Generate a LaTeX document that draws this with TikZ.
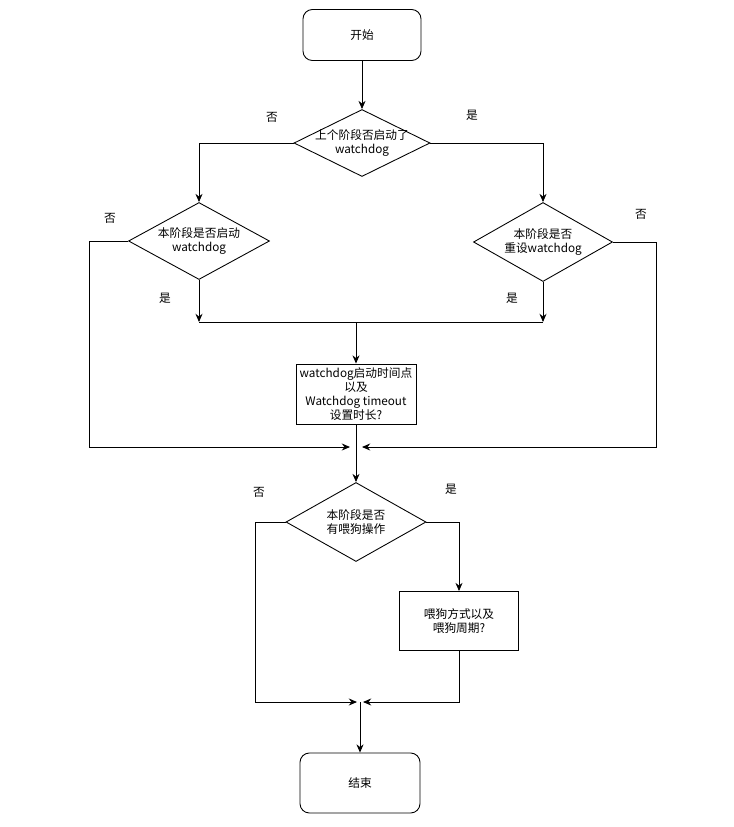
\documentclass[tikz,border=0pt]{standalone}
\usepackage{fontspec}
\setmainfont{Noto Sans CJK SC}
\usetikzlibrary{shapes.geometric,arrows.meta,positioning,calc}
\tikzset{%
  x=0.03cm, y=-0.03cm,
  every node/.style={font=\fontsize{10}{12}\selectfont, align=center},
  terminal/.style={draw, rounded corners=8pt, line width=0.75pt, minimum width=#1, inner sep=0pt},
  decision/.style={draw, diamond, line width=0.75pt, inner sep=0pt},
  process/.style={draw, rectangle, line width=0.75pt, inner sep=0pt},
  flow/.style={draw, line width=0.75pt, -{Stealth[length=7pt,width=6pt]}},
  line/.style={draw, line width=0.75pt}
}
\begin{document}
\begin{tikzpicture}
  \useasboundingbox (0,0) rectangle (734,827);
  % start / end
  \node[terminal=3.54cm, minimum height=1.53cm] (start) at (362,35) {开始};
  \node[terminal=3.6cm, minimum height=1.8cm] (stop) at (360,783) {结束};
  % decisions
  \node[decision, minimum width=4.08cm, minimum height=2.01cm] (d1) at (362,143) {};
  \node at (d1) {上个阶段否启动了\\watchdog};
  \node[decision, minimum width=4.23cm, minimum height=2.31cm] (d2) at (199,241) {};
  \node at (d2) {本阶段是否启动\\watchdog};
  \node[decision, minimum width=4.17cm, minimum height=2.37cm] (d3) at (543,242) {};
  \node at (d3) {本阶段是否\\重设watchdog};
  \node[decision, minimum width=4.2cm, minimum height=2.37cm] (d4) at (356,522) {};
  \node at (d4) {本阶段是否\\有喂狗操作};
  % processes
  \node[process, minimum width=3.6cm, minimum height=1.8cm] (wdset) at (356,394)
    {watchdog启动时间点\\以及\\Watchdog timeout\\设置时长?};
  \node[process, minimum width=3.57cm, minimum height=1.77cm] (feed) at (459,621)
    {喂狗方式以及\\喂狗周期?};
  % junctions
  \coordinate (m1) at (d2.south |- 0,322);
  \coordinate (m2) at (d3.south |- 0,322);
  \coordinate (j1l) at (350,447);
  \coordinate (j1r) at (362,447);
  \coordinate (j2l) at (357,702);
  \coordinate (j2r) at (363,702);
  \coordinate (j2) at (stop.north |- 0,702);
  % labels
  \node (n1) at (272,117) {否};
  \node (y1) at (472,115) {是};
  \node (n2) at (110,218) {否};
  \node (y2) at (165,298) {是};
  \node (n3) at (641,214) {否};
  \node (y3) at (512,298) {是};
  \node (n4) at (259,492) {否};
  \node (y4) at (451,489) {是};
  % connectors
  \path[flow] (start) -- (d1);
  \path[flow] (d1.west) -| (d2.north);
  \path[flow] (d1.east) -| (d3.north);
  \path[flow] (d2.south) -- (m1);
  \path[flow] (d3.south) -- (m2);
  \path[line] (m1) -- (m2);
  \path[flow] (wdset.north |- m1) -- (wdset.north);
  \path[flow] (d2.west) -- ++(-39,0) |- (j1l);
  \path[flow] (d3.east) -- ++(43,0) |- (j1r);
  \path[flow] (wdset.south) -- (d4.north);
  \path[flow] (d4.west) -- ++(-30,0) |- (j2l);
  \path[flow] (d4.east) -| (feed.north);
  \path[flow] (feed.south) |- (j2r);
  \path[flow] (j2) -- (stop.north);
\end{tikzpicture}
\end{document}
